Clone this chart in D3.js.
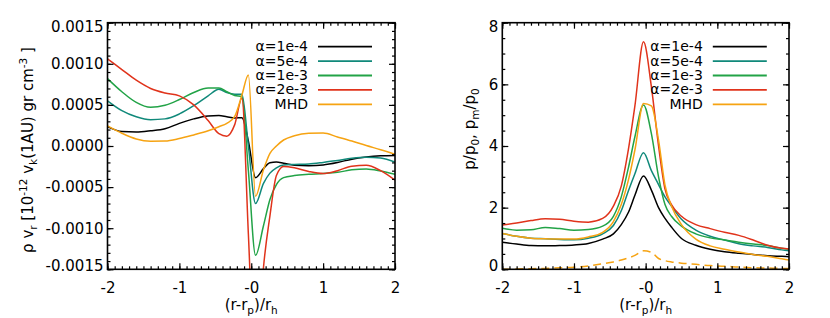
<!DOCTYPE html>
<html>
<head>
<meta charset="utf-8">
<script src="https://cdn.jsdelivr.net/npm/d3@7"></script>
<style>
  body { margin: 0; background: #fff; }
  svg { display: block; }
  text { font-family: "DejaVu Sans", sans-serif; fill: #000; }
</style>
</head>
<body>
<svg id="chart" width="830" height="318"></svg>
<script>
"use strict";

// ---- data ----

var seriesNames = ["α=1e-4", "α=5e-4", "α=1e-3", "α=2e-3", "MHD"];
var seriesColors = ["#000000", "#10897a", "#22a347", "#e0331b", "#f6a312"];

var xTicks = [-2, -1, 0, 1, 2];
var xTickLabels = ["-2", "-1", "-0", "1", "2"];

// left panel: rho v_r, values in units of 1e-4
var xFlux = [-2, -1.8, -1.6, -1.4, -1.2, -1.0, -0.8, -0.6, -0.45, -0.34, -0.23, -0.13, -0.04,
             0.06, 0.17, 0.26, 0.35, 0.45, 0.6, 0.8, 1.0, 1.2, 1.4, 1.6, 1.8, 2.0];
var fluxAlpha1e4 = [2.35, 1.75, 1.7, 1.85, 2.1, 2.75, 3.3, 3.65, 3.7, 3.55, 3.4, 3.45, 0.6,
                    -3.85, -2.75, -2.05, -1.95, -2.1, -2.35, -2.4, -2.3, -2.0, -1.6, -1.35, -1.2, -1.15];
var fluxAlpha5e4 = [5.5, 4.3, 3.55, 3.2, 3.3, 3.9, 4.9, 6.1, 6.9, 6.5, 6.3, 6.3, 0.0,
                    -7.0, -4.55, -3.3, -2.65, -2.3, -2.25, -2.2, -2.0, -1.75, -1.5, -1.38, -1.45, -1.95];
var fluxAlpha1e3 = [8.2, 6.6, 5.3, 4.7, 4.95, 5.65, 6.5, 7.05, 7.05, 6.6, 6.15, 6.0, -3.0,
                    -13.3, -9.7, -6.5, -4.7, -3.85, -3.6, -3.45, -3.35, -3.2, -2.9, -2.8, -3.05, -3.45];
var fluxAlpha2e3 = [10.6, 9.3, 8.0, 7.0, 6.45, 6.1, 5.0, 3.1, 1.5, 1.2, 2.6, 5.8, -10.7,
                    -29.0, -14.8, -8.5, -3.6, -2.5, -2.65, -3.1, -3.35, -3.0, -2.45, -2.35, -3.0, -4.15];
var fluxMhd = [2.45, 1.55, 0.85, 0.58, 0.6, 0.9, 1.35, 1.85, 2.35, 2.76, 3.6, 6.2, 8.64,
               -6.1, -2.9, -0.9, 0.0, 0.73, 1.25, 1.55, 1.58, 1.1, 0.6, 0.05, -0.45, -1.0];

var yFluxTicks = [0.0015, 0.0010, 0.0005, 0.0, -0.0005, -0.0010, -0.0015];
var yFluxLabels = ["0.0015", "0.0010", "0.0005", "0.0000", "-0.0005", "-0.0010", "-0.0015"];

// right panel: p/p0 (solid) and pm/p0 (MHD dashed)
var xPress = [-2, -1.8, -1.6, -1.4, -1.2, -1.0, -0.8, -0.6, -0.45, -0.34, -0.24, -0.15, -0.03,
              0.08, 0.18, 0.27, 0.36, 0.5, 0.7, 0.9, 1.1, 1.3, 1.5, 1.7, 1.9, 2.0];
var pressAlpha1e4 = [0.88, 0.82, 0.77, 0.76, 0.77, 0.79, 0.84, 0.98, 1.15, 1.45, 1.85, 2.4, 3.03,
                     2.57, 2.0, 1.65, 1.37, 1.0, 0.78, 0.65, 0.57, 0.52, 0.48, 0.44, 0.42, 0.41];
var pressAlpha5e4 = [1.16, 1.07, 1.01, 0.99, 0.97, 0.96, 1.01, 1.15, 1.42, 1.9, 2.55, 3.1, 3.78,
                     3.2, 2.75, 2.35, 2.05, 1.62, 1.27, 1.07, 0.95, 0.83, 0.76, 0.71, 0.63, 0.6];
var pressAlpha1e3 = [1.33, 1.27, 1.28, 1.36, 1.32, 1.27, 1.29, 1.4, 1.72, 2.35, 3.3, 4.3, 5.33,
                     4.4, 3.0, 2.1, 1.72, 1.4, 1.15, 1.02, 0.95, 0.88, 0.82, 0.77, 0.68, 0.65];
var pressAlpha2e3 = [1.44, 1.5, 1.58, 1.64, 1.62, 1.56, 1.53, 1.65, 2.05, 2.7, 3.9, 5.3, 7.38,
                     5.92, 4.0, 2.6, 2.1, 1.72, 1.45, 1.32, 1.2, 1.1, 0.95, 0.78, 0.68, 0.66];
var pressMhd = [1.16, 1.07, 1.01, 0.99, 0.98, 0.98, 1.05, 1.2, 1.55, 2.1, 2.9, 3.87, 5.38,
                5.3, 4.19, 2.73, 2.05, 1.45, 0.98, 0.76, 0.65, 0.56, 0.48, 0.42, 0.34, 0.3];
var magPressMhd = [0.0, 0.01, 0.02, 0.03, 0.05, 0.07, 0.11, 0.18, 0.24, 0.3, 0.37, 0.45, 0.6,
                   0.55, 0.35, 0.28, 0.24, 0.2, 0.16, 0.12, 0.1, 0.07, 0.05, 0.04, 0.03, 0.03];

var yPressTicks = [0, 2, 4, 6, 8];
var yPressLabels = ["0", "2", "4", "6", "8"];


var svg = d3.select("#chart");


function drawPanel(p) {

    var x = d3.scaleLinear().domain([-2, 2]).range([p.left, p.right]);
    var y = d3.scaleLinear().domain(p.yDomain).range([p.bottom, p.top]);

    var g = svg.append("g");

    // clip to the plot box
    g.append("clipPath")
        .attr("id", p.id + "-clip")
        .append("rect")
        .attr("x", p.left)
        .attr("y", p.top)
        .attr("width", p.right - p.left)
        .attr("height", p.bottom - p.top);

    var line = d3.line()
        .x(d => x(d[0]))
        .y(d => y(d[1]))
        .curve(d3.curveMonotoneX);

    var curves = g.append("g").attr("clip-path", "url(#" + p.id + "-clip)");

    p.series.forEach(function (ys, i) {
        curves.append("path")
            .datum(p.xs.map((xv, k) => [xv, ys[k] * p.unit]))
            .attr("d", line)
            .attr("fill", "none")
            .attr("stroke", seriesColors[i])
            .attr("stroke-width", 1.5);
    });

    if (p.dashed) {
        curves.append("path")
            .datum(p.xs.map((xv, k) => [xv, p.dashed[k]]))
            .attr("d", line)
            .attr("fill", "none")
            .attr("stroke", seriesColors[4])
            .attr("stroke-width", 1.5)
            .attr("stroke-dasharray", "8,5");
    }

    // ticks on all four sides, pointing inward
    var xMinor = d3.range(-20, 21).map(v => v / 10);

    function axis(gen, tr, values, size, labels) {
        var a = gen.tickValues(values).tickSize(-size);
        if (labels) a.tickFormat((d, i) => labels[i]);
        else a.tickFormat("");
        var ag = g.append("g").attr("transform", tr).call(a);
        ag.select(".domain").remove();
        ag.selectAll("line").attr("stroke", "#000").attr("stroke-width", 1.2);
        return ag;
    }

    var xb = axis(d3.axisBottom(x).tickPadding(12.6), "translate(0," + p.bottom + ")", xTicks, 6, xTickLabels);
    axis(d3.axisBottom(x), "translate(0," + p.bottom + ")", xMinor, 3);
    axis(d3.axisTop(x), "translate(0," + p.top + ")", xTicks, 6);
    axis(d3.axisTop(x), "translate(0," + p.top + ")", xMinor, 3);

    var yl = axis(d3.axisLeft(y).tickPadding(4), "translate(" + p.left + ",0)", p.yTicks, 6, p.yLabels);
    axis(d3.axisLeft(y), "translate(" + p.left + ",0)", p.yMinor, 3);
    axis(d3.axisRight(y), "translate(" + p.right + ",0)", p.yTicks, 6);
    axis(d3.axisRight(y), "translate(" + p.right + ",0)", p.yMinor, 3);

    xb.selectAll("text").attr("font-size", 15).attr("font-family", "DejaVu Sans");

    // end labels sit inside the box like the original
    var lo = p.yDomain[0], hi = p.yDomain[1];
    yl.selectAll("text")
        .attr("font-size", 15)
        .attr("font-family", "DejaVu Sans")
        .attr("dy", d => Math.abs(d - hi) < 1e-9 ? "0.58em" : Math.abs(d - lo) < 1e-9 ? "0.06em" : "0.32em");

    // frame
    g.append("rect")
        .attr("x", p.left)
        .attr("y", p.top)
        .attr("width", p.right - p.left)
        .attr("height", p.bottom - p.top)
        .attr("fill", "none")
        .attr("stroke", "#000")
        .attr("stroke-width", 1.6);

    // legend
    seriesNames.forEach(function (name, i) {
        var ly = p.top + 24 + i * 14.4;
        g.append("line")
            .attr("x1", p.left + 210.5)
            .attr("x2", p.left + 264.5)
            .attr("y1", ly)
            .attr("y2", ly)
            .attr("stroke", seriesColors[i])
            .attr("stroke-width", 1.8);
        g.append("text")
            .attr("x", p.left + 200.5)
            .attr("y", ly + 4.5)
            .attr("text-anchor", "end")
            .attr("font-size", 14)
            .text(name);
    });

    // x title: (r-rp)/rh
    var xt = g.append("text")
        .attr("x", (p.left + p.right) / 2)
        .attr("y", 310)
        .attr("text-anchor", "middle")
        .attr("font-size", 15);
    xt.append("tspan").text("(r-r");
    xt.append("tspan").attr("dy", 4).attr("font-size", 10.5).text("p");
    xt.append("tspan").attr("dy", -4).text(")/r");
    xt.append("tspan").attr("dy", 4).attr("font-size", 10.5).text("h");

    // y title
    var yt = g.append("text")
        .attr("transform", "translate(" + p.titleX + "," + p.titleY + ") rotate(-90)")
        .attr("text-anchor", "middle")
        .attr("font-size", 15);
    p.title.forEach(function (part) {
        var t = yt.append("tspan").text(part[0]);
        if (part[1]) t.attr("dy", part[1]);
        if (part[2]) t.attr("font-size", part[2]);
    });
}


drawPanel({
    id: "flux",
    left: 107.5, right: 395, top: 22.7, bottom: 269.3,
    yDomain: [-0.0015, 0.0015],
    yTicks: yFluxTicks,
    yLabels: yFluxLabels,
    yMinor: d3.range(-15, 16).map(v => v * 1e-4),
    xs: xFlux,
    unit: 1e-4,
    series: [fluxAlpha1e4, fluxAlpha5e4, fluxAlpha1e3, fluxAlpha2e3, fluxMhd],
    titleX: 33, titleY: 150,
    title: [["ρ v"], ["r", 4, 10.5], [" [10", -4], ["-12", -6, 10.5], [" v", 6], ["k", 4, 10.5],
            ["(1AU) gr cm", -4], ["-3", -6, 10.5], [" ]", 6]]
});

drawPanel({
    id: "press",
    left: 502.3, right: 789, top: 22.7, bottom: 269.3,
    yDomain: [0, 8],
    yTicks: yPressTicks,
    yLabels: yPressLabels,
    yMinor: d3.range(0, 17).map(v => v / 2),
    xs: xPress,
    unit: 1,
    series: [pressAlpha1e4, pressAlpha5e4, pressAlpha1e3, pressAlpha2e3, pressMhd],
    dashed: magPressMhd,
    titleX: 475, titleY: 129,
    title: [["p/p"], ["0", 4, 10.5], [", p", -4], ["m", 4, 10.5], ["/p", -4], ["0", 4, 10.5]]
});

</script>
</body>
</html>
